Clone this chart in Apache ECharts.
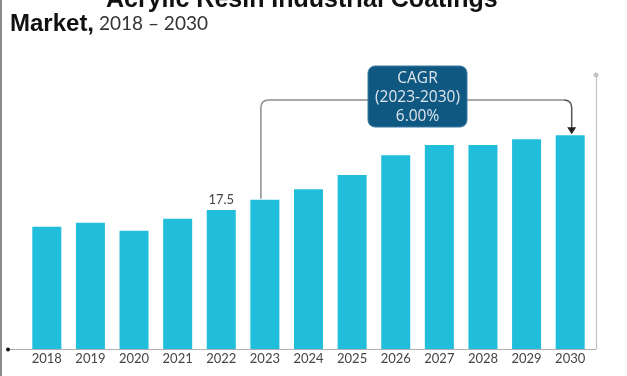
<!DOCTYPE html>
<html>
<head>
<meta charset="utf-8">
<script src="https://cdn.jsdelivr.net/npm/echarts@6/dist/echarts.min.js"></script>
<style>
  html, body { margin: 0; padding: 0; background: #fff; }
  #chart { width: 627px; height: 376px; }
</style>
</head>
<body>
<div id="chart"></div>
<script>
const years = ['2018', '2019', '2020', '2021', '2022', '2023', '2024', '2025', '2026', '2027', '2028', '2029', '2030']
const marketSize = [15.4, 15.9, 14.9, 16.4, 17.5, 18.8, 20.1, 21.9, 24.4, 25.7, 25.7, 26.4, 26.9]
const labelledYear = '2022'
const cagrLines = ['CAGR', '(2023-2030)', '6.00%']
const cagrFrom = '2023'
const cagrTo = '2030'

const chart = echarts.init(document.getElementById('chart'))

const barColor = '#20bedb'
const lineColor = '#8c8c8c'

chart.setOption({
  animation: false,
  title: [
    {
      text: 'Acrylic Resin Industrial Coatings',
      left: 106,
      top: -12,
      padding: 0,
      textStyle: {
        fontFamily: 'Liberation Sans',
        fontWeight: 'bold',
        fontSize: 25,
        color: '#111'
      }
    },
    {
      text: '{b|Market,} {r|2018 – 2030}',
      left: 10,
      top: 12,
      padding: 0,
      textStyle: {
        rich: {
          b: { fontFamily: 'Liberation Sans', fontWeight: 'bold', fontSize: 24, color: '#111' },
          r: { fontFamily: 'Lato', fontWeight: 'normal', fontSize: 19, color: '#333' }
        }
      }
    }
  ],
  grid: {
    left: 25,
    right: 35,
    top: 75,
    bottom: 27
  },
  xAxis: {
    type: 'category',
    data: years,
    axisLine: { show: false },
    axisTick: { show: false },
    axisLabel: {
      margin: 3,
      color: '#444',
      fontFamily: 'Lato',
      fontSize: 13
    }
  },
  yAxis: {
    type: 'value',
    min: 0,
    max: 34.5,
    position: 'right',
    offset: 4,
    splitLine: { show: false },
    axisLabel: { show: false },
    axisTick: { show: false },
    axisLine: {
      show: true,
      symbol: ['none', 'circle'],
      symbolSize: [5, 5],
      lineStyle: { color: '#c4c4c4', width: 1.2 }
    }
  },
  series: [{
    type: 'bar',
    barWidth: 29,
    data: marketSize.map((v, i) => ({
      value: v,
      label: years[i] === labelledYear ? {
        show: true,
        position: 'top',
        distance: 4,
        color: '#444',
        fontFamily: 'Lato',
        fontSize: 13
      } : { show: false }
    })),
    itemStyle: {
      color: barColor
    }
  }]
})

// annotation drawn from the axes' own pixel positions
function drawAnnotations() {
  const i0 = years.indexOf(cagrFrom)
  const i1 = years.indexOf(cagrTo)
  const p0 = chart.convertToPixel({ gridIndex: 0 }, [i0, marketSize[i0]])
  const p1 = chart.convertToPixel({ gridIndex: 0 }, [i1, marketSize[i1]])
  const base = chart.convertToPixel({ gridIndex: 0 }, [0, 0])
  const rightEdge = chart.convertToPixel({ gridIndex: 0 }, [years.length - 1, 0])

  const ly = 100
  const r = 8
  const boxW = 99
  const boxH = 61
  const boxX = 368
  const boxY = 66
  const x0 = p0[0] - 4
  const x1 = p1[0] + 1.5
  const stroke = { stroke: lineColor, lineWidth: 1.5 }

  chart.setOption({
    graphic: [
      {
        type: 'line',
        shape: { x1: 1, y1: 0, x2: 1, y2: 376 },
        style: { stroke: '#8a8a8a', lineWidth: 2 }
      },
      {
        type: 'line',
        shape: { x1: 8, y1: base[1] + 0.5, x2: rightEdge[0] + 26, y2: base[1] + 0.5 },
        style: { stroke: '#b0b0b0', lineWidth: 1.2 }
      },
      {
        type: 'circle',
        shape: { cx: 8, cy: base[1] + 0.5, r: 2 },
        style: { fill: '#111' }
      },
      {
        type: 'polyline',
        shape: { points: [[x0, p0[1] - 1], [x0, ly + r]] },
        style: stroke
      },
      {
        type: 'bezierCurve',
        shape: { x1: x0, y1: ly + r, cpx1: x0, cpy1: ly, x2: x0 + r, y2: ly },
        style: Object.assign({ fill: 'none' }, stroke)
      },
      {
        type: 'line',
        shape: { x1: x0 + r, y1: ly, x2: boxX, y2: ly },
        style: stroke
      },
      {
        type: 'line',
        shape: { x1: boxX + boxW, y1: ly, x2: x1 - r, y2: ly },
        style: stroke
      },
      {
        type: 'bezierCurve',
        shape: { x1: x1 - r, y1: ly, cpx1: x1, cpy1: ly, x2: x1, y2: ly + r },
        style: { fill: 'none', stroke: '#555', lineWidth: 1.5 }
      },
      {
        type: 'line',
        shape: { x1: x1, y1: ly + r, x2: x1, y2: p1[1] - 6 },
        style: { stroke: '#555', lineWidth: 1.5 }
      },
      {
        type: 'polygon',
        shape: { points: [[x1 - 4.5, p1[1] - 8], [x1 + 4.5, p1[1] - 8], [x1, p1[1] - 1]] },
        style: { fill: '#222' }
      },
      {
        type: 'rect',
        shape: { x: boxX, y: boxY, width: boxW, height: boxH, r: 7 },
        style: { fill: '#0f5882', stroke: '#3d7ba3', lineWidth: 1 }
      },
      {
        type: 'text',
        x: boxX + boxW / 2,
        y: boxY + boxH / 2 + 1,
        style: {
          text: cagrLines.join('\n'),
          align: 'center',
          verticalAlign: 'middle',
          fill: '#dfe6ec',
          fontFamily: 'Open Sans',
          fontSize: 15.5,
          lineHeight: 19
        }
      }
    ]
  })
}

drawAnnotations()
</script>
</body>
</html>
